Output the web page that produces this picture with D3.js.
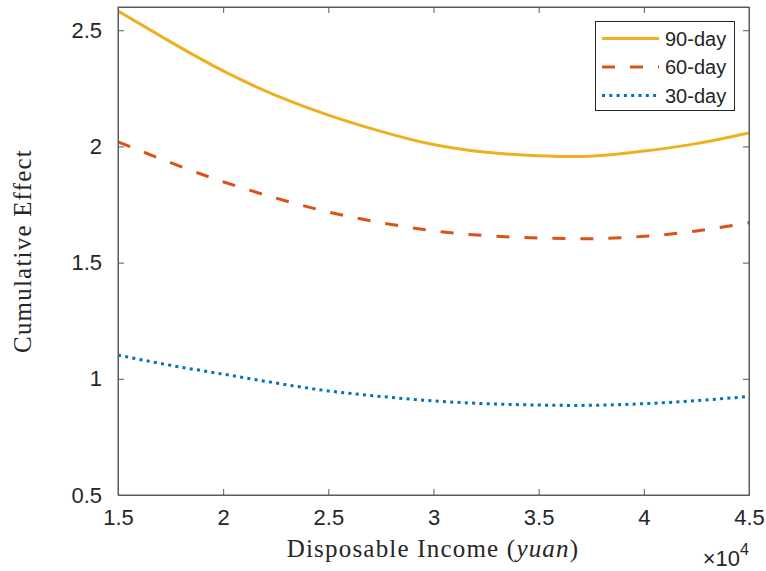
<!DOCTYPE html>
<html>
<head>
<meta charset="utf-8">
<script src="https://cdn.jsdelivr.net/npm/d3@7"></script>
<style>
  html, body { margin: 0; padding: 0; background: #fff; }
  svg { display: block; }
</style>
</head>
<body>
<svg id="chart" width="766" height="571"></svg>
<script>
// Disposable income (in units of 10^4 yuan)
const income = [1.5, 1.75, 2.0, 2.25, 2.5, 2.75, 3.0, 3.25, 3.5, 3.75, 4.0, 4.25, 4.5];

// Cumulative effect for each horizon
const effect90 = [2.583, 2.450, 2.325, 2.220, 2.135, 2.065, 2.008, 1.975, 1.960, 1.958, 1.980, 2.012, 2.058];
const effect60 = [2.020, 1.930, 1.848, 1.778, 1.718, 1.672, 1.637, 1.616, 1.606, 1.603, 1.613, 1.636, 1.672];
const effect30 = [1.102, 1.058, 1.020, 0.982, 0.948, 0.924, 0.905, 0.893, 0.887, 0.886, 0.893, 0.906, 0.924];

const seriesNames = ["90-day", "60-day", "30-day"];
const xTicks = [1.5, 2, 2.5, 3, 3.5, 4, 4.5];
const yTicks = [0.5, 1, 1.5, 2, 2.5];

const series = [
  { name: seriesNames[0], values: effect90, color: "#EDB120", dash: null },
  { name: seriesNames[1], values: effect60, color: "#D95319", dash: "13,15" },
  { name: seriesNames[2], values: effect30, color: "#0072BD", dash: "3,4.3" }
];

const svg = d3.select("#chart");
const m = { left: 118, right: 749, top: 7, bottom: 495 };

const x = d3.scaleLinear().domain([1.5, 4.5]).range([m.left, m.right]);
const y = d3.scaleLinear().domain([0.5, 2.6]).range([m.bottom, m.top]);

const axisColor = "#5a5a5a";
const textColor = "#262626";
const tickFont = "Liberation Sans, Arial, Helvetica, sans-serif";

// Data lines, clipped to the axes box
svg.append("clipPath").attr("id", "plotClip")
  .append("rect")
  .attr("x", m.left).attr("y", m.top)
  .attr("width", m.right - m.left).attr("height", m.bottom - m.top);

const line = d3.line().curve(d3.curveNatural);
const plot = svg.append("g").attr("clip-path", "url(#plotClip)");
series.forEach(s => {
  plot.append("path")
    .attr("d", line(income.map((v, i) => [x(v), y(s.values[i])])))
    .attr("fill", "none")
    .attr("stroke", s.color)
    .attr("stroke-width", 3)
    .attr("stroke-dasharray", s.dash);
});

// Axes with inward ticks on all four sides
const tickLen = 6;
function styleAxis(g) {
  g.selectAll(".domain").attr("stroke", axisColor).attr("stroke-width", 1);
  g.selectAll(".tick line").attr("stroke", axisColor).attr("stroke-width", 1);
  g.selectAll(".tick text").attr("fill", textColor)
    .style("font-family", tickFont).style("font-size", "22px");
}

svg.append("g")
  .attr("transform", `translate(0,${m.bottom})`)
  .call(d3.axisBottom(x).tickValues(xTicks).tickSizeInner(-tickLen).tickSizeOuter(0)
    .tickPadding(14).tickFormat(d3.format("")))
  .call(styleAxis)
  .call(g => g.selectAll(".tick text").attr("dy", "0.71em"));

svg.append("g")
  .attr("transform", `translate(0,${m.top})`)
  .call(d3.axisTop(x).tickValues(xTicks).tickSizeInner(-tickLen).tickSizeOuter(0).tickFormat(""))
  .call(styleAxis);

svg.append("g")
  .attr("transform", `translate(${m.left},0)`)
  .call(d3.axisLeft(y).tickValues(yTicks).tickSizeInner(-tickLen).tickSizeOuter(0)
    .tickPadding(16).tickFormat(d3.format("")))
  .call(styleAxis);

svg.append("g")
  .attr("transform", `translate(${m.right},0)`)
  .call(d3.axisRight(y).tickValues(yTicks).tickSizeInner(-tickLen).tickSizeOuter(0).tickFormat(""))
  .call(styleAxis);

// Axes box edges
svg.append("rect")
  .attr("x", m.left).attr("y", m.top)
  .attr("width", m.right - m.left).attr("height", m.bottom - m.top)
  .attr("fill", "none").attr("stroke", axisColor).attr("stroke-width", 1);

// Exponent marker for the x axis
const expo = svg.append("text")
  .attr("x", 749).attr("y", 566)
  .attr("text-anchor", "end")
  .attr("fill", textColor)
  .style("font-family", tickFont).style("font-size", "22px");
expo.append("tspan").text("\u00d710");
expo.append("tspan").attr("dy", -11).style("font-size", "16px").text("4");

// Axis titles (serif, math-style italic unit)
const serif = "Liberation Serif, Times New Roman, serif";
const xTitle = svg.append("text")
  .attr("x", 433).attr("y", 557)
  .attr("text-anchor", "middle")
  .attr("fill", textColor)
  .style("font-family", serif).style("font-size", "25px")
  .style("letter-spacing", "1.2px");
xTitle.append("tspan").text("Disposable Income (");
xTitle.append("tspan").style("font-style", "italic").text("yuan");
xTitle.append("tspan").text(")");

svg.append("text")
  .attr("transform", "translate(31,251) rotate(-90)")
  .attr("text-anchor", "middle")
  .attr("fill", textColor)
  .style("font-family", serif).style("font-size", "25px")
  .style("letter-spacing", "1.2px")
  .text("Cumulative Effect");

// Legend
const lg = svg.append("g");
lg.append("rect")
  .attr("x", 595.5).attr("y", 21.5).attr("width", 139).attr("height", 89)
  .attr("fill", "#fff").attr("stroke", textColor).attr("stroke-width", 1);
series.forEach((s, i) => {
  const ry = 38.5 + i * 28.5;
  lg.append("line")
    .attr("x1", 602).attr("x2", 659).attr("y1", ry).attr("y2", ry)
    .attr("stroke", s.color).attr("stroke-width", 3)
    .attr("stroke-dasharray", s.dash);
  lg.append("text")
    .attr("x", 665).attr("y", ry).attr("dy", "0.36em")
    .attr("fill", textColor)
    .style("font-family", tickFont).style("font-size", "20px")
    .text(s.name);
});
</script>
</body>
</html>
